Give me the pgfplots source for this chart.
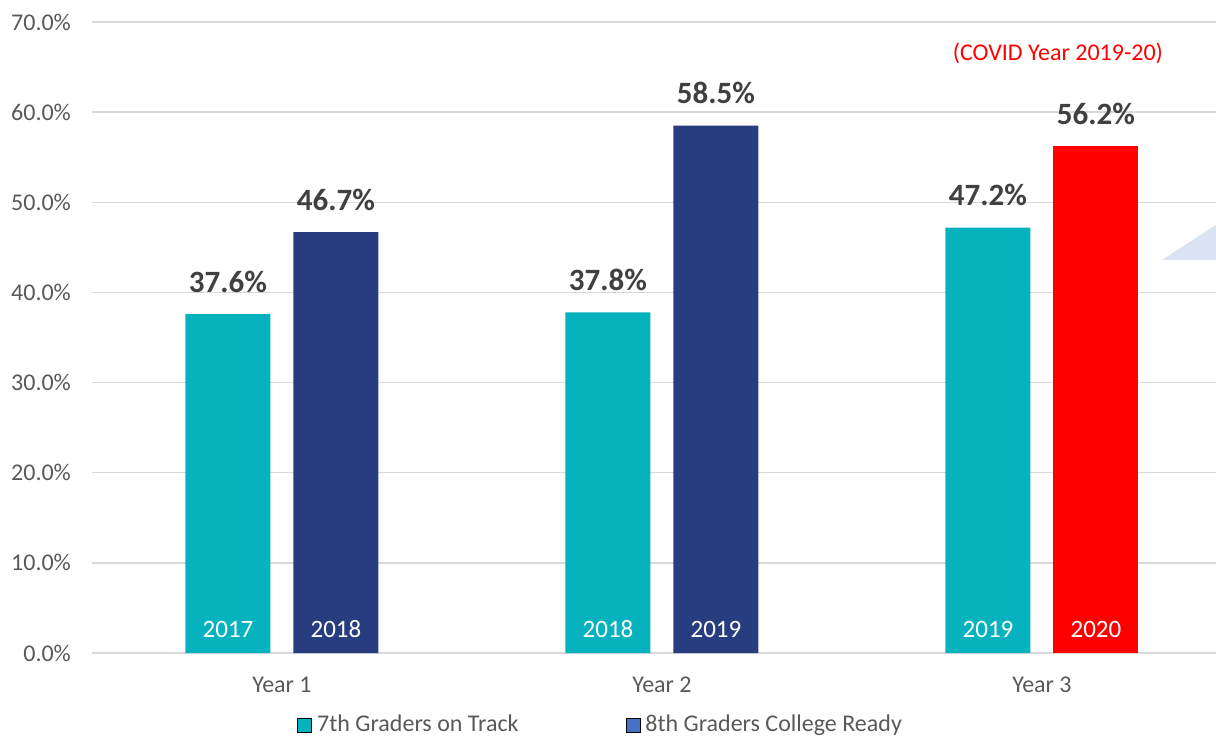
\documentclass[border=0pt]{standalone}
\usepackage{fontspec}
\setmainfont{Carlito}
\usepackage{pgfplots}
\pgfplotsset{compat=1.18}
\definecolor{Teal7}{RGB}{5,178,190}
\definecolor{Navy8}{RGB}{40,61,128}
\definecolor{Blue8}{RGB}{68,114,196}
\definecolor{Covid}{RGB}{255,0,0}
\definecolor{GridGray}{RGB}{217,217,217}
\definecolor{TextGray}{RGB}{89,89,89}
\definecolor{LabelGray}{RGB}{64,64,64}
\definecolor{Wedge}{RGB}{218,227,243}

\begin{document}
\begin{tikzpicture}
\begin{axis}[
    scale only axis,
    width=562pt, height=315.5pt,
    xmin=-0.5, xmax=2.458, ymin=0, ymax=70,
    xtick={0,1,2}, xticklabels={Year 1,Year 2,Year 3},
    ytick={0,10,...,70},
    yticklabel={\pgfmathprintnumber[fixed,fixed zerofill,precision=1]{\tick}\%},
    /pgf/number format/assume math mode=true,
    ymajorgrids,
    grid style={draw=GridGray, line width=0.75pt},
    axis line style={draw=none},
    major tick length=0pt,
    tick label style={font=\fontsize{12}{14}\selectfont, text=TextGray},
    xticklabel style={anchor=base, yshift=-19.5pt},
    yticklabel style={anchor=east, xshift=-7pt},
    legend columns=2,
    legend image code/.code={\fill[#1] (0pt,-3.5pt) rectangle (7pt,3.5pt);},
    legend style={at={(rel axis cs:0.1824,-0.1141)}, anchor=west,
        draw=none, fill=none, inner sep=0pt,
        font=\fontsize{12}{14}\selectfont, text=TextGray,
        nodes={inner sep=0pt},
        /tikz/every odd column/.style={column sep=2.5pt},
        /tikz/every even column/.style={column sep=53.5pt}},
    bar width=42.5pt,
    every node near coord/.append style={font=\fontsize{15.5}{18}\selectfont\bfseries, text=LabelGray, yshift=7.3pt},
]
% decorative wedge at right edge
\fill[Wedge] (axis cs:2.316,43.6) -- (axis cs:2.458,47.5) -- (axis cs:2.458,43.6) -- cycle;

\addplot[ybar, bar shift=-27pt, fill=Teal7, draw=none, forget plot,
    nodes near coords={\pgfmathprintnumber[fixed,fixed zerofill,precision=1]{\pgfplotspointmeta}\%},
    every node near coord/.append style={xshift=-27pt}]
    coordinates {(0,37.6) (1,37.8) (2,47.2)};
\addplot[ybar, bar shift=27pt, fill=Navy8, draw=none, forget plot,
    nodes near coords={\pgfmathprintnumber[fixed,fixed zerofill,precision=1]{\pgfplotspointmeta}\%},
    every node near coord/.append style={xshift=27pt}]
    coordinates {(0,46.7) (1,58.5)};
\addplot[ybar, bar shift=27pt, fill=Covid, draw=none, forget plot,
    nodes near coords={\pgfmathprintnumber[fixed,fixed zerofill,precision=1]{\pgfplotspointmeta}\%},
    every node near coord/.append style={xshift=27pt}]
    coordinates {(2,56.2)};

% year labels inside the bars
\addplot[draw=none, mark=none, forget plot, nodes near coords, point meta=explicit symbolic,
    every node near coord/.style={font=\fontsize{12.5}{15}\selectfont, text=white, anchor=base, yshift=8pt}]
    table[meta=lab] {
x y lab
-0.142 0 2017
0.142 0 2018
0.858 0 2018
1.142 0 2019
1.858 0 2019
2.142 0 2020
};

\node[text=Covid, font=\fontsize{12}{14}\selectfont] at (axis cs:2.042,66.5) {(COVID Year 2019-20)};

\addlegendimage{fill=Teal7}
\addlegendentry{7th Graders on Track}
\addlegendimage{fill=Blue8}
\addlegendentry{8th Graders College Ready}

\coordinate (BL) at (axis cs:-0.742,-9.54);
\coordinate (TR) at (axis cs:2.458,72.44);
\end{axis}
\pgfresetboundingbox
\useasboundingbox (BL) rectangle (TR);
\end{tikzpicture}
\end{document}
